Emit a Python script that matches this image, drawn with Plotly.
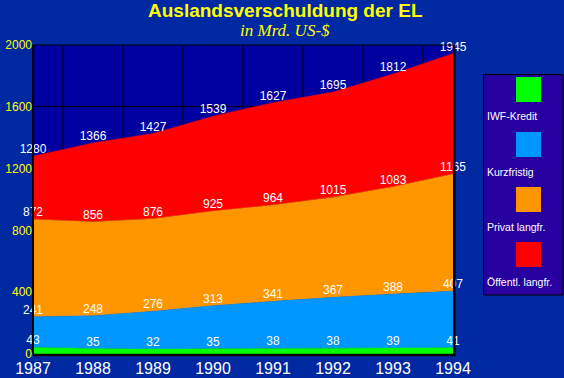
import plotly.graph_objects as go

years = [1987, 1988, 1989, 1990, 1991, 1992, 1993, 1994]
# cumulative totals (as labelled in the chart), bottom to top
iwf_kredit = [43, 35, 32, 35, 38, 38, 39, 41]
kurzfristig = [241, 248, 276, 313, 341, 367, 388, 407]
privat_langfr = [872, 856, 876, 925, 964, 1015, 1083, 1165]
oeffentl_langfr = [1280, 1366, 1427, 1539, 1627, 1695, 1812, 1945]

series_names = ["IWF-Kredit", "Kurzfristig", "Privat langfr.", "Öffentl. langfr."]
series_values = [iwf_kredit, kurzfristig, privat_langfr, oeffentl_langfr]
series_colors = ["#00FF00", "#0096FF", "#FF9600", "#FF0000"]

y_ticks = [0, 400, 800, 1200, 1600, 2000]

W, H = 564, 378
ML, MR, MT, MB = 33, 111, 45, 24
PW, PH = W - ML - MR, H - MT - MB


def px_x(px):
    return (px - ML) / PW


def px_y(py):
    return (H - MB - py) / PH


fig = go.Figure()
for i, (name, vals, col) in enumerate(zip(series_names, series_values, series_colors)):
    fig.add_trace(go.Scatter(
        x=years, y=vals, name=name,
        mode="lines+text",
        line=dict(color=col, width=0.5),
        fill="tozeroy" if i == 0 else "tonexty",
        fillcolor=col,
        text=[str(v) for v in vals],
        textposition="top center",
        textfont=dict(family="Liberation Sans, Arial", size=12, color="white"),
        cliponaxis=False,
        showlegend=False,
        hoverinfo="skip",
    ))

shapes = []
# vertical grid lines between the years
for a, b in zip(years[:-1], years[1:]):
    xm = (a + b) / 2
    shapes.append(dict(type="line", xref="x", yref="paper", x0=xm, x1=xm, y0=0, y1=1,
                       line=dict(color="black", width=1), layer="below"))
# plot border
shapes.append(dict(type="line", xref="paper", yref="paper", x0=0, x1=1, y0=1, y1=1,
                   line=dict(color="black", width=1)))
shapes.append(dict(type="line", xref="paper", yref="paper", x0=0, x1=0, y0=0, y1=1,
                   line=dict(color="black", width=2)))
shapes.append(dict(type="line", xref="paper", yref="paper", x0=1.003, x1=1.003, y0=-0.005, y1=1,
                   line=dict(color="black", width=2.5)))
shapes.append(dict(type="line", xref="paper", yref="paper", x0=0, x1=1.006, y0=-0.003, y1=-0.003,
                   line=dict(color="black", width=2.5)))

# custom legend box
shapes.append(dict(type="rect", xref="paper", yref="paper",
                   x0=px_x(483.5), x1=px_x(563), y0=px_y(295), y1=px_y(74.5),
                   line=dict(color="black", width=1), fillcolor="#2800A0"))
annotations = []
for k, (name, col) in enumerate(zip(series_names, series_colors)):
    top = 77 + 55 * k
    shapes.append(dict(type="rect", xref="paper", yref="paper",
                       x0=px_x(516), x1=px_x(541), y0=px_y(top + 25), y1=px_y(top),
                       line=dict(width=0), fillcolor=col))
    annotations.append(dict(xref="paper", yref="paper", x=px_x(485), y=px_y(116.5 + 55 * k),
                            xanchor="left", yanchor="middle", showarrow=False, text=name,
                            font=dict(family="Liberation Sans, Arial", size=10.5, color="white")))

annotations.append(dict(xref="paper", yref="paper", x=px_x(285), y=px_y(10.5),
                        xanchor="center", yanchor="middle", showarrow=False,
                        text="<b>Auslandsverschuldung der EL</b>",
                        font=dict(family="Liberation Sans, Arial", size=19, color="#FFFF00")))
annotations.append(dict(xref="paper", yref="paper", x=px_x(285), y=px_y(30),
                        xanchor="center", yanchor="middle", showarrow=False,
                        text="<i>in Mrd. US-$</i>",
                        font=dict(family="Liberation Serif, Times New Roman", size=17, color="#FFFF00")))

fig.update_layout(
    width=W, height=H,
    margin=dict(l=ML, r=MR, t=MT, b=MB, autoexpand=False),
    paper_bgcolor="#0028A0",
    plot_bgcolor="#0000A0",
    shapes=shapes,
    annotations=annotations,
    xaxis=dict(range=[years[0], years[-1]], tickvals=years, ticktext=[str(y) for y in years],
               showgrid=False, zeroline=False, showline=False, ticks="", automargin=False,
               ticklabelstandoff=3,
               tickfont=dict(family="Liberation Sans, Arial", size=16, color="white")),
    yaxis=dict(range=[0, 2000], tickvals=y_ticks, showgrid=True, gridcolor="black", gridwidth=1,
               zeroline=False, showline=False, ticks="", automargin=False, ticklabelstandoff=0,
               tickfont=dict(family="Liberation Sans, Arial", size=12, color="#FFFF00")),
    showlegend=False,
)

fig.write_html("out.html",
               config={"displayModeBar": False, "staticPlot": True},
               post_script="document.body.style.margin='0';document.body.style.overflow='hidden';")
